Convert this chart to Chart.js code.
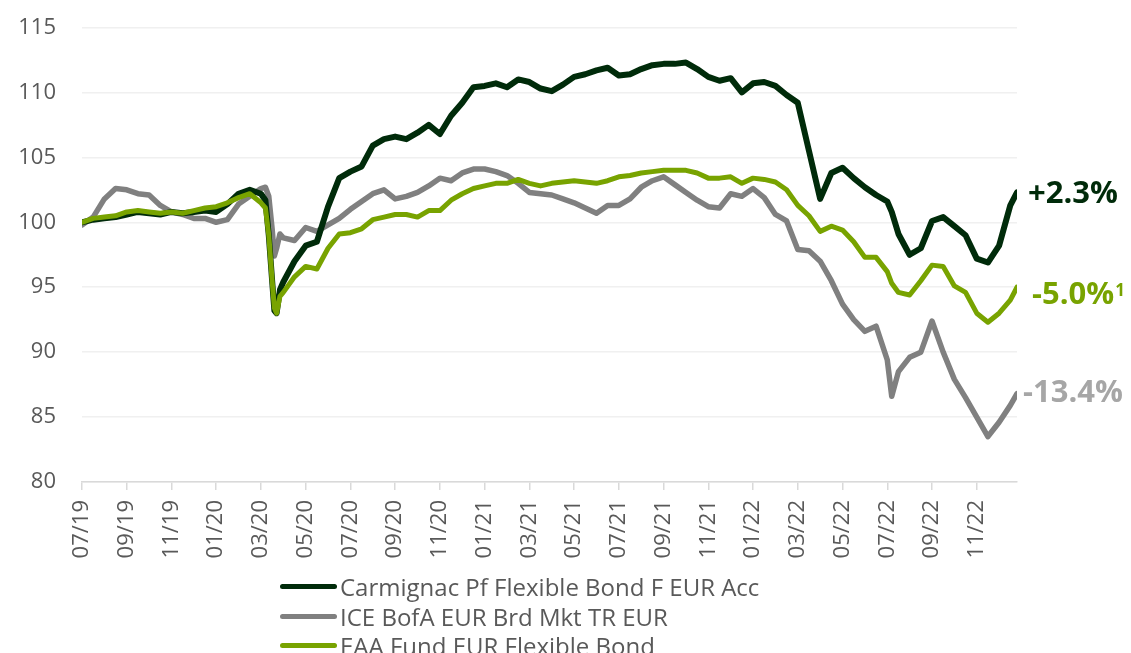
<!DOCTYPE html>
<html>
<head>
<meta charset="utf-8">
<script src="https://cdn.jsdelivr.net/npm/chart.js@4"></script>
<style>
  html, body { margin: 0; padding: 0; background: #fff; }
  #wrap { position: relative; width: 1131px; height: 653px; overflow: hidden; }
  #legend { position: absolute; left: 280px; top: 572px; font-family: 'Open Sans', sans-serif; font-size: 24px; color: #595959; }
  .row { display: flex; align-items: center; height: 29.4px; white-space: nowrap; }
  .swatch { width: 57px; height: 5px; border-radius: 3px; margin-right: 3px; }
</style>
</head>
<body>
<div id="wrap">
  <canvas id="chart" width="1131" height="653"></canvas>
  <div id="legend"></div>
</div>
<script>
// sample positions, in months from 07/2019
const months = [
  0, 0.5, 1, 1.5, 2, 2.5, 3, 3.5, 4, 4.5, 5, 5.5, 6, 6.5, 7, 7.5, 8,
  8.2, 8.35, 8.5, 8.6, 8.7, 8.85, 9,
  9.5, 10, 10.5, 11, 11.5, 12, 12.5, 13, 13.5, 14, 14.5, 15, 15.5, 16, 16.5, 17, 17.5, 18,
  18.5, 19, 19.5, 20, 20.5, 21, 21.5, 22, 22.5, 23, 23.5, 24, 24.5, 25, 25.5, 26, 26.5, 27,
  27.5, 28, 28.5, 29, 29.5, 30, 30.5, 31, 31.5, 32, 32.5, 33, 33.5, 34, 34.5, 35, 35.5, 36,
  36.2,
  36.5, 37, 37.5, 38, 38.5, 39, 39.5, 40, 40.5, 41, 41.5,
  41.8
];

const tickLabels = ['07/19','09/19','11/19','01/20','03/20','05/20','07/20','09/20','11/20','01/21',
  '03/21','05/21','07/21','09/21','11/21','01/22','03/22','05/22','07/22','09/22','11/22'];

const carmignac = [
  100.0, 100.2, 100.3, 100.4, 100.6, 100.8, 100.7, 100.6, 100.8, 100.7, 100.8, 100.9, 100.8, 101.4, 102.2, 102.5, 102.2,
  101.7, 99.0, 95.5, 93.2, 93.0, 94.8, 95.4,
  97.0, 98.2, 98.5, 101.2, 103.4, 103.9, 104.3, 105.9, 106.4, 106.6,
  106.4, 106.9, 107.5, 106.8, 108.2, 109.2, 110.4, 110.5, 110.7, 110.4,
  111.0, 110.8, 110.3, 110.1, 110.6, 111.2, 111.4, 111.7, 111.9, 111.3,
  111.4, 111.8, 112.1, 112.2, 112.2, 112.3, 111.8, 111.2, 110.9, 111.1,
  110.0, 110.7, 110.8, 110.5, 109.8, 109.2, 105.5, 101.8, 103.8, 104.2,
  103.4, 102.7, 102.1, 101.6,
  100.8,
  99.1, 97.5, 98.0, 100.1, 100.4, 99.7, 99.0, 97.2, 96.9, 98.2, 101.3,
  102.3
];

const iceBofa = [
  99.8, 100.4, 101.8, 102.6, 102.5, 102.2, 102.1, 101.3, 100.8, 100.6, 100.3, 100.3, 100.0, 100.2, 101.4, 102.0, 102.6,
  102.7, 102.0, 99.5, 97.4, 98.0, 99.1, 98.8,
  98.6, 99.6, 99.3, 99.8, 100.3, 101.0, 101.6, 102.2, 102.5, 101.8,
  102.0, 102.3, 102.8, 103.4, 103.2, 103.8, 104.1, 104.1, 103.9, 103.6,
  103.0, 102.3, 102.2, 102.1, 101.8, 101.5, 101.1, 100.7, 101.3, 101.3,
  101.8, 102.7, 103.2, 103.5, 102.9, 102.3, 101.7, 101.2, 101.1, 102.2,
  102.0, 102.6, 101.9, 100.6, 100.1, 97.9, 97.8, 97.0, 95.5, 93.7,
  92.5, 91.6, 92.0, 89.4,
  86.6,
  88.5, 89.6, 90.0, 92.4, 90.0, 87.9, 86.5, 85.0, 83.5, 84.6, 85.9,
  86.8
];

const eaaFund = [
  100.0, 100.3, 100.4, 100.5, 100.8, 100.9, 100.8, 100.7, 100.8, 100.7, 100.9, 101.1, 101.2, 101.5, 101.9, 102.2, 101.5,
  101.1, 99.0, 95.5, 93.4, 93.0, 94.3, 94.6,
  95.8, 96.6, 96.4, 98.0, 99.1, 99.2, 99.5, 100.2, 100.4, 100.6,
  100.6, 100.4, 100.9, 100.9, 101.7, 102.2, 102.6, 102.8, 103.0, 103.0,
  103.3, 103.0, 102.8, 103.0, 103.1, 103.2, 103.1, 103.0, 103.2, 103.5,
  103.6, 103.8, 103.9, 104.0, 104.0, 104.0, 103.8, 103.4, 103.4, 103.5,
  103.0, 103.4, 103.3, 103.1, 102.5, 101.3, 100.5, 99.3, 99.7, 99.4,
  98.5, 97.3, 97.3, 96.2,
  95.3,
  94.6, 94.4, 95.5, 96.7, 96.6, 95.1, 94.6, 93.0, 92.3, 93.0, 94.0,
  95.0
];

const seriesNames = ['Carmignac Pf Flexible Bond F EUR Acc', 'ICE BofA EUR Brd Mkt TR EUR', 'EAA Fund EUR Flexible Bond'];
const endLabels = ['+2.3%', '-13.4%', '-5.0%'];

const colors = ['#002b0a', '#808080', '#78a300'];
const labelColors = ['#002b0a', '#a6a6a6', '#78a300'];
const lineWidths = [6, 5.5, 5];
const labelOffsets = [[11, 11], [6, 8], [15, 17]];

const toPoints = vals => vals.map((v, i) => ({ x: months[i], y: v }));

// draws the performance text at the end of each line
const endLabelPlugin = {
  id: 'endLabels',
  afterDatasetsDraw(chart) {
    const ctx = chart.ctx;
    ctx.save();
    ctx.textAlign = 'left';
    ctx.textBaseline = 'alphabetic';
    chart.data.datasets.forEach((ds, i) => {
      const meta = chart.getDatasetMeta(i);
      const pt = meta.data[meta.data.length - 1];
      const x = pt.x + labelOffsets[i][0];
      const y = pt.y + labelOffsets[i][1];
      ctx.fillStyle = labelColors[i];
      ctx.font = 'bold 31px "Open Sans"';
      ctx.fillText(endLabels[i], x, y);
      if (i === 2) {
        const w = ctx.measureText(endLabels[i]).width;
        ctx.font = 'bold 17px "Open Sans"';
        ctx.fillText('1', x + w + 1, y - 8);
      }
    });
    ctx.restore();
  }
};

function build() {
  const legend = document.getElementById('legend');
  seriesNames.forEach((name, i) => {
    legend.innerHTML += `<div class="row"><div class="swatch" style="background:${colors[i]}"></div><span>${name}</span></div>`;
  });

  const tickFont = { family: 'Open Sans', size: 22 };
  new Chart(document.getElementById('chart'), {
    type: 'line',
    data: {
      datasets: [
        { label: seriesNames[0], data: toPoints(carmignac), borderColor: colors[0], borderWidth: lineWidths[0], order: 1 },
        { label: seriesNames[1], data: toPoints(iceBofa), borderColor: colors[1], borderWidth: lineWidths[1], order: 2 },
        { label: seriesNames[2], data: toPoints(eaaFund), borderColor: colors[2], borderWidth: lineWidths[2], order: 0 }
      ]
    },
    options: {
      responsive: false,
      animation: false,
      devicePixelRatio: 1,
      layout: { padding: { top: 27.5, right: 114, bottom: 91, left: 0 } },
      elements: {
        line: { tension: 0, borderJoinStyle: 'round', borderCapStyle: 'round', fill: false },
        point: { radius: 0, hoverRadius: 0 }
      },
      plugins: { legend: { display: false }, tooltip: { enabled: false } },
      scales: {
        x: {
          type: 'linear', min: 0, max: 41.8,
          afterBuildTicks: s => { s.ticks = tickLabels.map((_, i) => ({ value: i * 2 })); },
          afterFit: s => { s.height = 80; },
          ticks: {
            autoSkip: false, maxRotation: 90, minRotation: 90, padding: 10,
            font: tickFont, color: '#595959',
            callback: (v, i) => tickLabels[i]
          },
          grid: { drawOnChartArea: false, drawTicks: true, tickLength: 8, color: '#d9d9d9', lineWidth: 1.5 },
          border: { display: true, color: '#d9d9d9', width: 1.5 }
        },
        y: {
          min: 80, max: 115,
          afterFit: s => { s.width = 82; },
          // invisible tick marks give the gap between labels and plot
          ticks: { stepSize: 5, padding: 0, font: tickFont, color: '#595959' },
          grid: { color: '#f0f0f0', lineWidth: 1.5, drawTicks: true, tickLength: 26, tickColor: 'rgba(0,0,0,0)' },
          border: { display: false }
        }
      }
    },
    plugins: [endLabelPlugin]
  });
}

if (document.fonts && document.fonts.load) {
  document.fonts.load('22px "Open Sans"').then(() => document.fonts.load('bold 31px "Open Sans"')).then(build, build);
} else {
  build();
}
</script>
</body>
</html>
